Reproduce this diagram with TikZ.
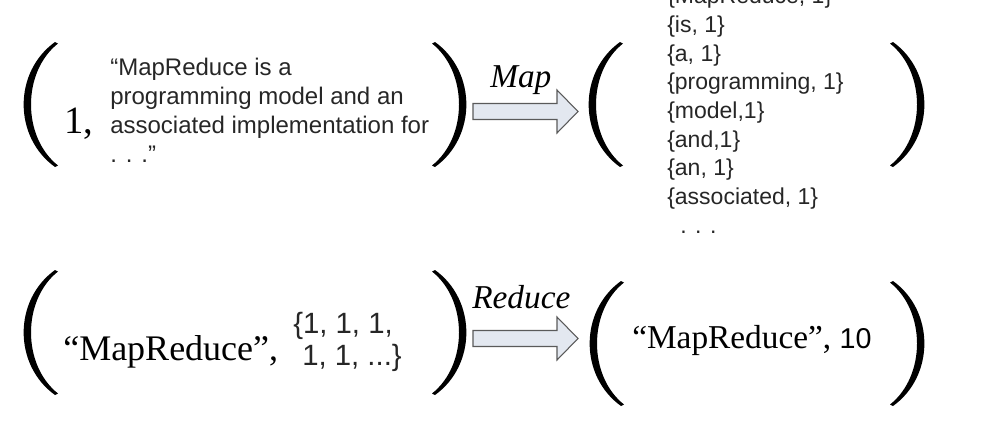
\documentclass[tikz,border=0pt]{standalone}
\usepackage{fontspec}
\setmainfont{Liberation Serif}
\setsansfont{Liberation Sans}
\definecolor{arrowfill}{HTML}{E3E8F0}
\definecolor{arrowline}{HTML}{5A5A5A}
\definecolor{sanscol}{HTML}{262626}
\begin{document}
\begin{tikzpicture}[x=0.75pt,y=-0.75pt,
  paren/.pic={\fill[black] (0,0) .. controls (-41.8,30) and (-41.8,95) .. (0,125)
     -- (3,123.5) .. controls (-33,95) and (-33,30) .. (3,1.5) -- cycle;},
  blockarrow/.pic={\draw[draw=arrowline, fill=arrowfill, line width=0.8pt]
     (0,-8) -- (84,-8) -- (84,-21.5) -- (105,0) -- (84,21.5) -- (84,8) -- (0,8) -- cycle;},
  sanstxt/.style={font=\sffamily\fontsize{18}{21.75}\selectfont, text=sanscol, inner sep=0pt, align=left},
  listtxt/.style={font=\sffamily\fontsize{17.25}{21.5}\selectfont, text=sanscol, inner sep=0pt, align=left},
  valtxt/.style={font=\sffamily\fontsize{22}{24}\selectfont, text=sanscol, inner sep=0pt, align=left},
  seriftxt/.style={font=\fontsize{27}{32}\selectfont, inner sep=0pt},
  labtxt/.style={font=\itshape\fontsize{25}{30}\selectfont, inner sep=0pt}
]
\useasboundingbox (0,0) rectangle (1005,426);
\clip (0,0) rectangle (1005,426);

% ---- top row: Map ----
\pic at (55,42) {paren};
\pic[xscale=-1] at (435,42) {paren};
\node[seriftxt, font=\fontsize{29}{34}\selectfont, anchor=base west] (key) at (64,133) {1,};
\node[sanstxt, anchor=base west] (doc) at (110,162)
  {“MapReduce is a\\programming model and an\\associated implementation for\\. . .”};

\pic at (473,111.5) {blockarrow};
\node[labtxt, anchor=base west] (maplab) at (490,87) {Map};

\pic at (620,42) {paren};
\pic[xscale=-1] at (893,42) {paren};
\node[listtxt, anchor=base west] (pairs) at (667,233)
  {\{MapReduce, 1\}\\\{is, 1\}\\\{a, 1\}\\\{programming, 1\}\\\{model,1\}\\\{and,1\}\\\{an, 1\}\\\{associated, 1\}\\\hspace*{9.75pt}. . .};

% ---- bottom row: Reduce ----
\pic at (55,270) {paren};
\pic[xscale=-1] at (435,270) {paren};
\node[seriftxt, anchor=base west] (word) at (63,360) {“MapReduce”,};
\node[valtxt, anchor=base west] (vals) at (293,365) {\{1, 1, 1,\\\hspace*{6.75pt}1, 1, ...\}};

\pic at (473,338.5) {blockarrow};
\node[labtxt, anchor=base west] (redlab) at (472,308) {Reduce};

\pic at (621,281) {paren};
\pic[xscale=-1] at (893,281) {paren};
\node[seriftxt, font=\fontsize{25}{30}\selectfont, anchor=base west] (result) at (632,348)
  {“MapReduce”, {\sffamily\fontsize{21.5}{26}\selectfont 10}};
\end{tikzpicture}
\end{document}
